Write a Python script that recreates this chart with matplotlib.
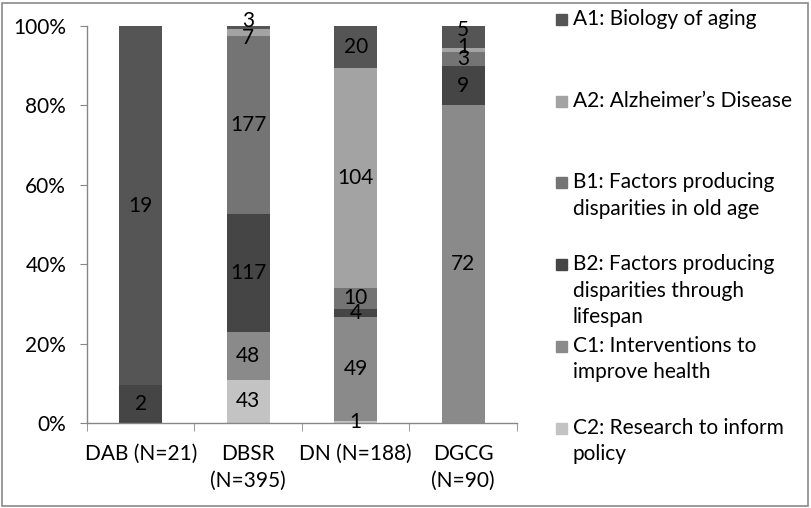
import matplotlib
matplotlib.use("Agg")
import matplotlib.pyplot as plt
from matplotlib.patches import Rectangle
import numpy as np

plt.rcParams['font.family'] = ['Lato', 'DejaVu Sans']

categories = ["DAB (N=21)", "DBSR\n(N=395)", "DN (N=188)", "DGCG\n(N=90)"]
series_names = ["A1: Biology of aging", "A2: Alzheimer\u2019s Disease",
                "B1: Factors producing\ndisparities in old age",
                "B2: Factors producing\ndisparities through\nlifespan",
                "C1: Interventions to\nimprove health",
                "C2: Research to inform\npolicy"]
# counts per series, per category
A1 = [19, 3, 20, 5]
A2 = [0, 7, 104, 1]
B1 = [0, 177, 10, 3]
B2 = [2, 117, 4, 9]
C1 = [0, 48, 49, 72]
C2 = [0, 43, 1, 0]
colors = {"A1": "#555555", "A2": "#a3a3a3", "B1": "#747474",
          "B2": "#454545", "C1": "#8a8a8a", "C2": "#c3c3c3"}

series = {"A1": A1, "A2": A2, "B1": B1, "B2": B2, "C1": C1, "C2": C2}
stack_order = ["C2", "C1", "B2", "B1", "A2", "A1"]
# small label nudges (points) for crowded thin segments
nudge = {("A1", 1): 5, ("A2", 1): -4, ("A1", 3): 5, ("A2", 3): 2}

fig = plt.figure(figsize=(8.12, 5.08), dpi=100)
ax = fig.add_axes([87/812, 1-423/508, (517-87)/812, (423-26)/508])

x = np.arange(len(categories))
totals = np.sum([np.array(v) for v in series.values()], axis=0)
bottom = np.zeros(len(categories))
fs = 15
for key in stack_order:
    vals = np.array(series[key], dtype=float)
    frac = vals / totals
    ax.bar(x, frac, width=0.4, bottom=bottom, color=colors[key], linewidth=0)
    for i in range(len(x)):
        if vals[i] > 0:
            ax.annotate(f"{int(vals[i])}", (x[i], bottom[i] + frac[i]/2),
                        xytext=(0, nudge.get((key, i), 0)), textcoords='offset points',
                        ha='center', va='center', fontsize=fs, color='black')
    bottom += frac

ax.set_xlim(-0.5, len(categories) - 0.5)
ax.set_ylim(0, 1)
ax.set_yticks(np.linspace(0, 1, 6))
ax.set_yticklabels([f"{int(v*100)}%" for v in np.linspace(0, 1, 6)], fontsize=fs)
ax.set_xticks(x)
ax.set_xticklabels(categories, fontsize=fs, linespacing=1.45)
ax.tick_params(axis='x', length=0, pad=15)
ax.set_xticks(np.arange(-0.5, len(categories)), minor=True)
ax.tick_params(axis='x', which='minor', length=6, color='#868686', direction='out')
ax.tick_params(axis='y', length=5, color='#868686', direction='out', pad=10)
for s in ['top', 'right']:
    ax.spines[s].set_visible(False)
for s in ['left', 'bottom']:
    ax.spines[s].set_color('#868686')
    ax.spines[s].set_linewidth(1)

# legend (manual, Excel-style even spacing)
legend_keys = ["A1", "A2", "B1", "B2", "C1", "C2"]
y0 = 20
step = 81.7
for i, (k, name) in enumerate(zip(legend_keys, series_names)):
    yc = y0 + i * step
    fig.patches.append(Rectangle((556/812, 1 - (yc + 5)/508), 11/812, 11/508,
                                 transform=fig.transFigure, color=colors[k]))
    fig.text(573/812, 1 - (yc - 11)/508, name, fontsize=fs, va='top', ha='left',
             linespacing=1.4)

# outer border
fig.patches.append(Rectangle((2/812, 2/508), 806/812, 503/508, transform=fig.transFigure,
                             fill=False, edgecolor='#8a8a8a', linewidth=1.2))

fig.savefig("out.png", dpi=100)
